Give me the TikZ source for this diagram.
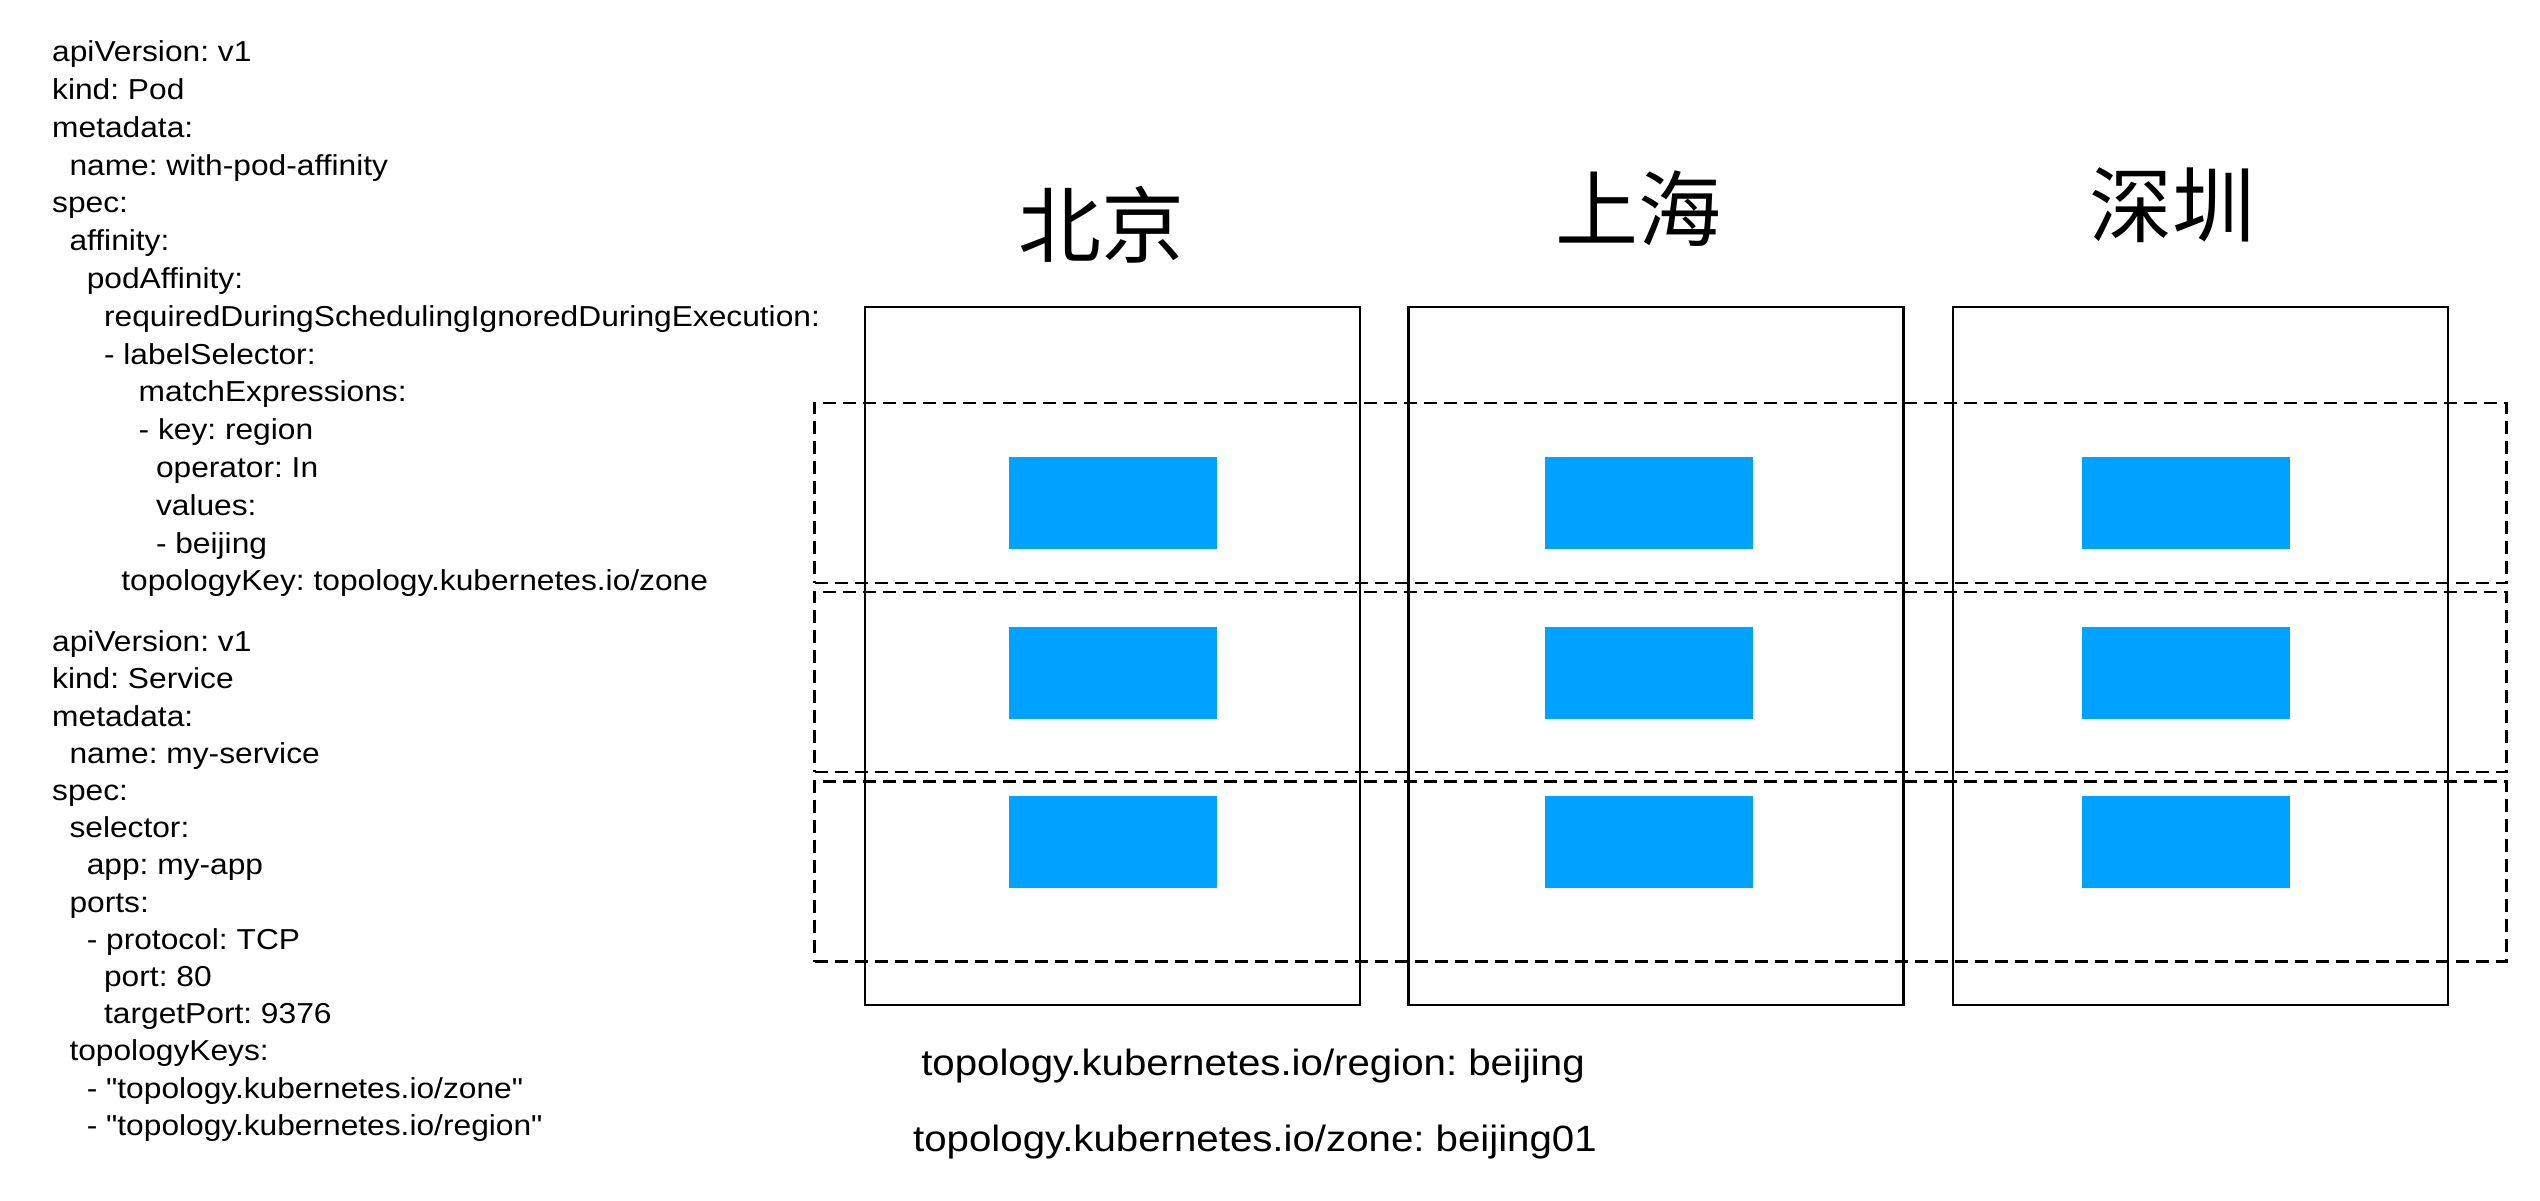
\documentclass[tikz,border=0pt]{standalone}
\usepackage{fontspec}
\newfontfamily\yamlfont[FakeStretch=1.1]{Liberation Sans}
\newfontfamily\cjkfont{Noto Sans CJK SC}
\usepackage{tikz}
\definecolor{podblue}{RGB}{0,162,255}

\begin{document}
\begin{tikzpicture}[x=0.01cm,y=-0.01cm,
	yaml/.style={font=\yamlfont\fontsize{8.2}{9.8}\selectfont\frenchspacing,inner sep=0pt,anchor=base west},
	keylabel/.style={font=\yamlfont\fontsize{10.4}{12.4}\selectfont\frenchspacing,inner sep=0pt,anchor=base},
	city/.style={font=\cjkfont\fontsize{23.6}{28}\selectfont,inner sep=0pt},
	zonebox/.style={draw,line width=0.7pt,minimum width=4.95cm,minimum height=6.98cm,inner sep=0pt},
	rowbox/.style={draw,line width=0.7pt,dash pattern=on 0.13cm off 0.07cm,minimum width=16.91cm,minimum height=1.8cm,inner sep=0pt},
	podbox/.style={fill=podblue,minimum width=2.08cm,minimum height=0.92cm,inner sep=0pt}]
		\useasboundingbox (0,0) rectangle (2540,1200);
		%Pod yaml
		\foreach \i/\n/\t in {0/0/apiVersion: v1, 1/0/kind: Pod, 2/0/metadata:, 3/2/name: with-pod-affinity,
			4/0/spec:, 5/2/affinity:, 6/4/podAffinity:, 7/6/requiredDuringSchedulingIgnoredDuringExecution:,
			8/6/- labelSelector:, 9/10/matchExpressions:, 10/10/- key: region, 11/12/operator: In,
			12/12/values:, 13/12/- beijing, 14/8/{topologyKey: topology.kubernetes.io/zone}}
			\node[yaml] (pod\i) at (51.5+8.65*\n,61.7+37.8*\i) {\t};
		
		%Service yaml
		\foreach \i/\n/\t in {0/0/apiVersion: v1, 1/0/kind: Service, 2/0/metadata:, 3/2/name: my-service,
			4/0/spec:, 5/2/selector:, 6/4/app: my-app, 7/2/ports:, 8/4/- protocol: TCP, 9/6/port: 80,
			10/6/targetPort: 9376, 11/2/topologyKeys:, 12/4/{- "topology.kubernetes.io/zone"},
			13/4/{- "topology.kubernetes.io/region"}}
			\node[yaml] (svc\i) at (51.5+8.65*\n,651.7+37.2*\i) {\t};
		
		%zones
		\foreach \c/\x in {bj/1112.5,sh/1656,sz/2200.5}
			\node[zonebox] (\c) at (\x,656) {};
		\node[city] (bjname) at (1101,224.5) {北京};
		\node[city] (shname) at (1638,209) {上海};
		\node[city] (szname) at (2172,205) {深圳};
		
		%dashed rows
		\foreach \r/\y in {1/493,2/682,3/871.5}
			\node[rowbox] (row\r) at (1660.5,\y) {};
		
		%pods
		\foreach \c/\x in {bj/1113,sh/1649,sz/2186}
			\foreach \r/\y in {1/503,2/673,3/842}
				\node[podbox] (\c\r) at (\x,\y) {};
		
		%labels
		\node[keylabel] (region) at (1253,1075) {topology.kubernetes.io/region: beijing};
		\node[keylabel] (zone) at (1255,1151.7) {topology.kubernetes.io/zone: beijing01};
		
\end{tikzpicture}
\end{document}
